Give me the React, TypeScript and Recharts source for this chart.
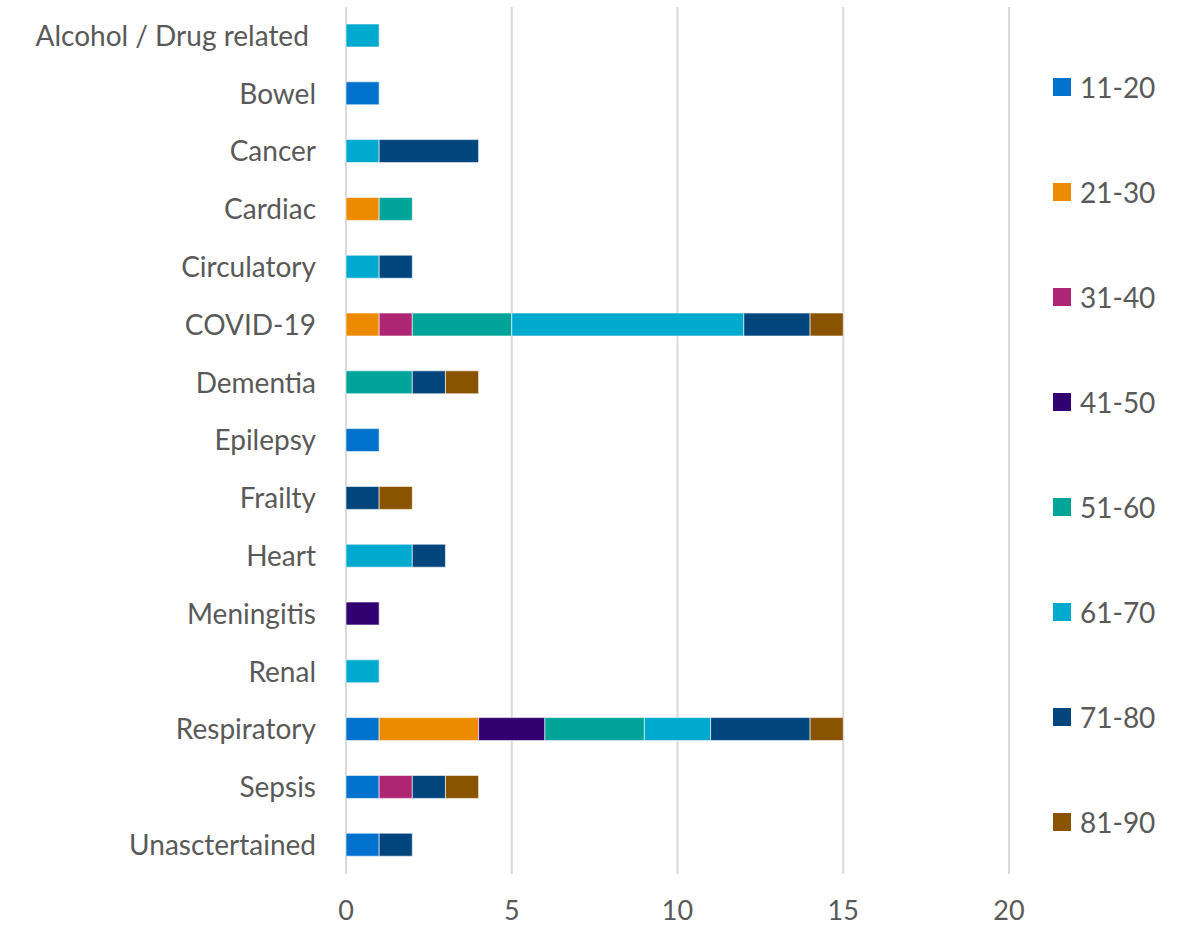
import { BarChart, Bar, XAxis, YAxis, CartesianGrid, Legend } from "recharts";

const causes = [
  "Alcohol / Drug related\u00a0",
  "Bowel",
  "Cancer",
  "Cardiac",
  "Circulatory",
  "COVID-19",
  "Dementia",
  "Epilepsy",
  "Frailty",
  "Heart",
  "Meningitis",
  "Renal",
  "Respiratory",
  "Sepsis",
  "Unasctertained",
];

const ageGroups = ["11-20", "21-30", "31-40", "41-50", "51-60", "61-70", "71-80", "81-90"];
const ageColors = ["#0072ce", "#ed8b00", "#ae2573", "#330072", "#00a499", "#00a9ce", "#00457c", "#8a5300"];

// one value per cause, same order as causes
const age11to20 = [0, 1, 0, 0, 0, 0, 0, 1, 0, 0, 0, 0, 1, 1, 1];
const age21to30 = [0, 0, 0, 1, 0, 1, 0, 0, 0, 0, 0, 0, 3, 0, 0];
const age31to40 = [0, 0, 0, 0, 0, 1, 0, 0, 0, 0, 0, 0, 0, 1, 0];
const age41to50 = [0, 0, 0, 0, 0, 0, 0, 0, 0, 0, 1, 0, 2, 0, 0];
const age51to60 = [0, 0, 0, 1, 0, 3, 2, 0, 0, 0, 0, 0, 3, 0, 0];
const age61to70 = [1, 0, 1, 0, 1, 7, 0, 0, 0, 2, 0, 1, 2, 0, 0];
const age71to80 = [0, 0, 3, 0, 1, 2, 1, 0, 1, 1, 0, 0, 3, 1, 1];
const age81to90 = [0, 0, 0, 0, 0, 1, 1, 0, 1, 0, 0, 0, 1, 1, 0];

const seriesValues = [age11to20, age21to30, age31to40, age41to50, age51to60, age61to70, age71to80, age81to90];

const xTicks = [0, 5, 10, 15, 20];

const data = causes.map((name, i) => {
  const row: Record<string, string | number> = { name };
  ageGroups.forEach((g, j) => {
    row[g] = seriesValues[j][i];
  });
  return row;
});

const textColor = "#595959";
const fontFamily = "Lato, 'Open Sans', sans-serif";

function AgeLegend(props: any) {
  const payload = props.payload || [];
  return (
    <div style={{ fontFamily }}>
      {payload.map((item: any) => (
        <div
          key={item.value}
          style={{ height: 105, display: "flex", alignItems: "center" }}
        >
          <span
            style={{
              display: "inline-block",
              width: 18,
              height: 18,
              background: item.color,
              marginRight: 9,
            }}
          />
          <span style={{ fontSize: 28, color: textColor }}>{item.value}</span>
        </div>
      ))}
    </div>
  );
}

export default function App() {
  return (
    <div style={{ position: "absolute", left: 0, top: 0, background: "#fff" }}>
      <BarChart
        width={1179}
        height={927}
        data={data}
        layout="vertical"
        margin={{ top: 7, right: 170, bottom: 0, left: 0 }}
        barSize={23}
      >
        <CartesianGrid horizontal={false} stroke="#d9d9d9" strokeWidth={2} />
        <XAxis
          type="number"
          domain={[0, 20]}
          ticks={xTicks}
          axisLine={false}
          tickLine={false}
          tickSize={8}
          tickMargin={19}
          height={53}
          tick={{ fill: textColor, fontSize: 27, fontFamily }}
        />
        <YAxis
          type="category"
          dataKey="name"
          width={346}
          axisLine={false}
          tickLine={false}
          tickSize={0}
          tickMargin={30}
          interval={0}
          tick={{ fill: textColor, fontSize: 28, fontFamily }}
        />
        <Legend
          layout="vertical"
          align="center"
          verticalAlign="middle"
          content={<AgeLegend />}
          wrapperStyle={{ left: 1053, top: 34, width: 126 }}
        />
        {ageGroups.map((g, j) => (
          <Bar
            key={g}
            dataKey={g}
            name={g}
            stackId="a"
            fill={ageColors[j]}
            stroke="#ffffff"
            strokeWidth={0.6}
            isAnimationActive={false}
          />
        ))}
      </BarChart>
    </div>
  );
}
